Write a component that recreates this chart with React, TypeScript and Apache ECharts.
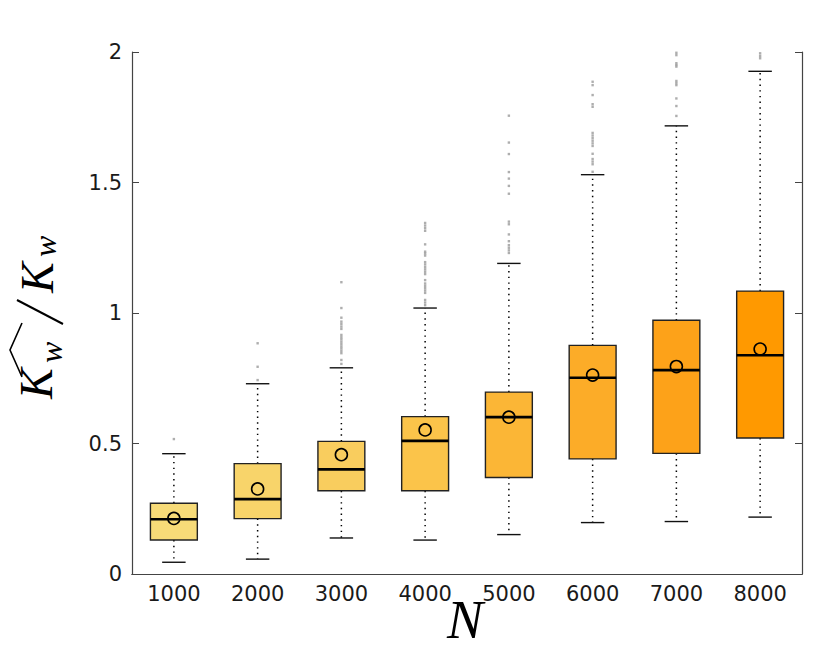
import React, { useEffect, useRef } from "react";
import * as echarts from "echarts";

const categories = ["1000", "2000", "3000", "4000", "5000", "6000", "7000", "8000"];
const lowWhisker = [0.045, 0.057, 0.138, 0.130, 0.151, 0.197, 0.201, 0.218];
const q1 = [0.130, 0.212, 0.319, 0.319, 0.370, 0.441, 0.462, 0.521];
const medians = [0.210, 0.287, 0.401, 0.510, 0.601, 0.752, 0.781, 0.838];
const q3 = [0.271, 0.423, 0.508, 0.603, 0.697, 0.876, 0.972, 1.084];
const highWhisker = [0.461, 0.729, 0.790, 1.019, 1.190, 1.530, 1.717, 1.926];
const means = [0.213, 0.326, 0.457, 0.552, 0.601, 0.762, 0.795, 0.862];
const outliers1000 = [0.517];
const outliers2000 = [0.743, 0.794, 0.884];
const outliers3000 = [0.805, 0.820, 0.846, 0.855, 0.864, 0.872, 0.881, 0.890, 0.899, 0.907, 0.916, 0.939, 0.948, 0.958, 0.967, 0.982, 1.019, 1.118];
const outliers4000 = [1.030, 1.040, 1.050, 1.077, 1.086, 1.095, 1.104, 1.113, 1.126, 1.149, 1.158, 1.167, 1.176, 1.186, 1.195, 1.220, 1.228, 1.235, 1.263, 1.315, 1.325, 1.335, 1.345];
const outliers5000 = [1.230, 1.240, 1.250, 1.260, 1.275, 1.301, 1.340, 1.350, 1.457, 1.487, 1.515, 1.540, 1.609, 1.653, 1.756];
const outliers6000 = [1.541, 1.570, 1.580, 1.590, 1.610, 1.640, 1.650, 1.660, 1.670, 1.680, 1.690, 1.790, 1.800, 1.835, 1.873, 1.886];
const outliers7000 = [1.755, 1.793, 1.822, 1.873, 1.881, 1.889, 1.944, 1.950, 1.957, 1.988, 1.997];
const outliers8000 = [1.976, 1.985, 1.995];
const outlierGroups = [outliers1000, outliers2000, outliers3000, outliers4000, outliers5000, outliers6000, outliers7000, outliers8000];
const boxColors = ["#F7DB78", "#F8D46A", "#F9CD5E", "#FBC44A", "#FBB636", "#FCAC28", "#FDA219", "#FF9900"];
const yTicks = [0, 0.5, 1, 1.5, 2];

export default function App() {
  const ref = useRef<HTMLDivElement>(null);
  useEffect(() => {
    document.body.style.margin = "0";
    const chart = echarts.init(ref.current!, null, { renderer: "svg" });
    const boxData = categories.map((_, i) => [i, lowWhisker[i], q1[i], medians[i], q3[i], highWhisker[i], means[i]]);
    const outlierData: number[][] = [];
    outlierGroups.forEach((g, i) => g.forEach((v) => outlierData.push([i, v])));
    const axisColor = "#444";
    const labelFont = { fontFamily: "DejaVu Sans", fontSize: 21, color: "#1a1a1a" };
    const serif = "'Liberation Serif'";
    chart.setOption({
      animation: false,
      grid: { left: 132, right: 28, top: 52, bottom: 77 },
      xAxis: [
        {
          type: "category",
          data: categories,
          position: "bottom",
          boundaryGap: true,
          axisLine: { lineStyle: { color: axisColor, width: 1.2 } },
          axisTick: { inside: true, alignWithLabel: true, length: 7, lineStyle: { color: axisColor } },
          axisLabel: { ...labelFont, margin: 9 },
          splitLine: { show: false },
        },
        {
          type: "category",
          data: categories,
          position: "top",
          boundaryGap: true,
          axisLine: { lineStyle: { color: axisColor, width: 1.2 } },
          axisTick: { inside: true, alignWithLabel: true, length: 7, lineStyle: { color: axisColor } },
          axisLabel: { show: false },
          splitLine: { show: false },
        },
      ],
      yAxis: [
        {
          type: "value",
          min: yTicks[0],
          max: yTicks[yTicks.length - 1],
          interval: 0.5,
          position: "left",
          axisLine: { show: true, lineStyle: { color: axisColor, width: 1.2 } },
          axisTick: { show: true, inside: true, length: 7, lineStyle: { color: axisColor } },
          axisLabel: { ...labelFont, margin: 10 },
          splitLine: { show: false },
        },
        {
          type: "value",
          min: yTicks[0],
          max: yTicks[yTicks.length - 1],
          interval: 0.5,
          position: "right",
          axisLine: { show: true, lineStyle: { color: axisColor, width: 1.2 } },
          axisTick: { show: true, inside: true, length: 7, lineStyle: { color: axisColor } },
          axisLabel: { show: false },
          splitLine: { show: false },
        },
      ],
      series: [
        {
          type: "scatter",
          xAxisIndex: 0,
          yAxisIndex: 0,
          data: outlierData,
          symbol: "rect",
          symbolSize: 2.4,
          itemStyle: { color: "#9a9a9a" },
          silent: true,
        },
        {
          type: "custom",
          xAxisIndex: 0,
          yAxisIndex: 0,
          data: boxData,
          encode: { x: 0, y: [1, 2, 3, 4, 5, 6] },
          renderItem: (params: any, api: any) => {
            const i = api.value(0);
            const bw = api.size([1, 0])[0];
            const boxW = bw * 0.56;
            const capW = bw * 0.28;
            const [x, yLow] = api.coord([i, api.value(1)]);
            const yQ1 = api.coord([i, api.value(2)])[1];
            const yMed = api.coord([i, api.value(3)])[1];
            const yQ3 = api.coord([i, api.value(4)])[1];
            const yHigh = api.coord([i, api.value(5)])[1];
            const yMean = api.coord([i, api.value(6)])[1];
            const dotted = { stroke: "#000", lineWidth: 1.5, lineDash: [1.4, 4.3] };
            const solid = { stroke: "#111", lineWidth: 1.4 };
            return {
              type: "group",
              children: [
                { type: "line", shape: { x1: x, y1: yQ3, x2: x, y2: yHigh }, style: dotted },
                { type: "line", shape: { x1: x, y1: yQ1, x2: x, y2: yLow }, style: dotted },
                { type: "line", shape: { x1: x - capW / 2, y1: yHigh, x2: x + capW / 2, y2: yHigh }, style: solid },
                { type: "line", shape: { x1: x - capW / 2, y1: yLow, x2: x + capW / 2, y2: yLow }, style: solid },
                {
                  type: "rect",
                  shape: { x: x - boxW / 2, y: yQ3, width: boxW, height: yQ1 - yQ3 },
                  style: { fill: boxColors[i], stroke: "#222", lineWidth: 1.4 },
                },
                { type: "line", shape: { x1: x - boxW / 2, y1: yMed, x2: x + boxW / 2, y2: yMed }, style: { stroke: "#000", lineWidth: 2.6 } },
                { type: "circle", shape: { cx: x, cy: yMean, r: 6 }, style: { fill: "none", stroke: "#000", lineWidth: 1.6 } },
              ],
            };
          },
        },
      ],
      graphic: [
        {
          type: "group",
          x: 44,
          y: 315,
          rotation: Math.PI / 2,
          children: [
            { type: "text", x: -84, y: -8, style: { text: "K", font: `italic 46px ${serif}`, fill: "#000", verticalAlign: "middle" } },
            { type: "text", x: -48, y: 7, style: { text: "w", font: `italic 32px ${serif}`, fill: "#000", verticalAlign: "middle" } },
            { type: "line", shape: { x1: -9, y1: 19, x2: 15, y2: -27 }, style: { stroke: "#000", lineWidth: 2 } },
            { type: "text", x: 22, y: -7, style: { text: "K", font: `italic 46px ${serif}`, fill: "#000", verticalAlign: "middle" } },
            { type: "text", x: 58, y: 1, style: { text: "w", font: `italic 32px ${serif}`, fill: "#000", verticalAlign: "middle" } },
            { type: "polyline", shape: { points: [[-62, -22], [-35, -34], [-8, -22]] }, style: { stroke: "#000", lineWidth: 1.6, fill: "none" } },
          ],
        },
        {
          type: "text",
          x: 465,
          y: 620,
          style: { text: "N", font: `italic 54px ${serif}`, fill: "#000", textAlign: "center", verticalAlign: "middle" },
        },
      ],
    });
    return () => chart.dispose();
  }, []);
  return <div ref={ref} style={{ width: 830, height: 651 }} />;
}
